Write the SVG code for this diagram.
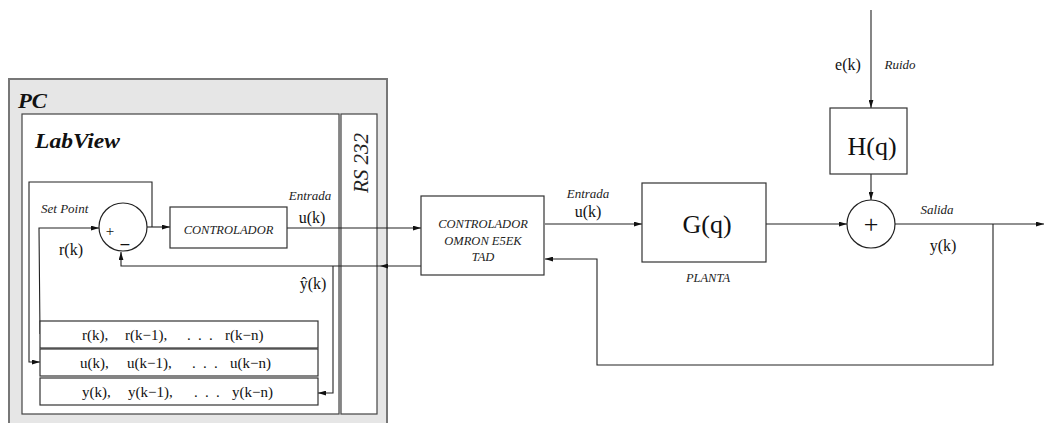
<svg xmlns="http://www.w3.org/2000/svg" width="1044" height="423" viewBox="0 0 1044 423">
<defs>
<marker id="ah" viewBox="0 0 10 6" refX="10" refY="3" markerWidth="8" markerHeight="5" markerUnits="userSpaceOnUse" orient="auto">
<path d="M0,0 L10,3 L0,6 z" fill="#111"/>
</marker>
<style>
.ln{fill:none;stroke:#222;stroke-width:1.1}
.arr{fill:none;stroke:#222;stroke-width:1.1;marker-end:url(#ah)}
.box{fill:#fff;stroke:#333;stroke-width:1.2}
.t{font-family:"Liberation Serif",serif;fill:#111}
.i{font-family:"Liberation Serif",serif;font-style:italic;fill:#222}
.bi{font-family:"Liberation Serif",serif;font-style:italic;font-weight:bold;fill:#111}
</style>
</defs>
<rect width="1044" height="423" fill="#fff"/>

<g id="pc">
<rect x="9" y="79" width="378" height="360" fill="#e6e6e6" stroke="#777" stroke-width="2"/>
<text class="bi" x="18" y="108" font-size="20" textLength="29" lengthAdjust="spacingAndGlyphs">PC</text>
</g>
<g id="labview">
<rect x="22" y="114" width="317" height="300" fill="#fff" stroke="#444" stroke-width="1.2"/>
<text class="bi" x="35" y="148" font-size="20" textLength="85" lengthAdjust="spacingAndGlyphs">LabView</text>
</g>
<g id="rs232">
<rect x="341" y="114" width="36" height="300" fill="#fff" stroke="#444" stroke-width="1.2"/>
<text class="i" transform="translate(368,163) rotate(-90)" text-anchor="middle" font-size="21">RS 232</text>
</g>

<g id="connectors">
<path class="arr" d="M40,334 L39,228 L99,228"/>
<path class="arr" d="M147,227 L170,227"/>
<path class="arr" d="M152,227 L152,182 L29,182 L29,362 L40,362"/>
<path class="arr" d="M287,228 L421,228"/>
<path class="arr" d="M421,266 L380,266"/>
<path class="arr" d="M380,266 L121,266 L121,252"/>
<path class="arr" d="M333,266 L333,393 L318,393"/>
<path class="arr" d="M545,224 L642,224"/>
<path class="arr" d="M766,224 L847,224"/>
<path class="arr" d="M871,10 L871,108"/>
<path class="arr" d="M871,174 L871,200"/>
<path class="arr" d="M895,224 L1044,224"/>
<path class="arr" d="M993,224 L993,365 L597,365 L597,259 L545,259"/>
</g>

<g id="summer1">
<circle cx="123" cy="227" r="24" fill="#fff" stroke="#222" stroke-width="1.2"/>
<text class="t" x="110" y="236" font-size="15" text-anchor="middle">+</text>
<text class="t" x="125" y="251" font-size="19" font-weight="bold" text-anchor="middle">−</text>
</g>
<g id="setpoint">
<text class="i" x="41" y="213" font-size="13">Set Point</text>
<text class="t" x="59" y="255" font-size="16">r(k)</text>
</g>
<g id="controlador">
<rect class="box" x="170" y="207" width="117" height="41"/>
<text class="i" x="228.5" y="234" font-size="12.5" text-anchor="middle">CONTROLADOR</text>
</g>
<g id="labels-left">
<text class="i" x="310" y="200" font-size="13" text-anchor="middle">Entrada</text>
<text class="t" x="312" y="223" font-size="16" text-anchor="middle">u(k)</text>
<text class="t" x="313" y="289" font-size="16" text-anchor="middle">ŷ(k)</text>
</g>
<g id="rbuf">
<rect class="box" x="40" y="321" width="278" height="27"/>
<text class="t" y="340" font-size="15"><tspan x="82">r(k),</tspan><tspan x="125">r(k−1),</tspan><tspan x="187">.</tspan><tspan x="198">.</tspan><tspan x="209">.</tspan><tspan x="225">r(k−n)</tspan></text>
</g>
<g id="ubuf">
<rect class="box" x="40" y="349" width="278" height="27"/>
<text class="t" y="368" font-size="15"><tspan x="80">u(k),</tspan><tspan x="127">u(k−1),</tspan><tspan x="192">.</tspan><tspan x="203">.</tspan><tspan x="214">.</tspan><tspan x="230">u(k−n)</tspan></text>
</g>
<g id="ybuf">
<rect class="box" x="40" y="378" width="278" height="27"/>
<text class="t" y="397" font-size="15"><tspan x="82">y(k),</tspan><tspan x="128">y(k−1),</tspan><tspan x="194">.</tspan><tspan x="205">.</tspan><tspan x="216">.</tspan><tspan x="232">y(k−n)</tspan></text>
</g>
<g id="omron">
<rect class="box" x="421" y="196" width="123" height="79"/>
<text class="i" x="483" y="228" font-size="12.5" text-anchor="middle">CONTROLADOR</text>
<text class="i" x="483" y="245" font-size="12.5" text-anchor="middle">OMRON E5EK</text>
<text class="i" x="483" y="261" font-size="12.5" text-anchor="middle">TAD</text>
</g>
<g id="labels-mid">
<text class="i" x="588" y="198" font-size="13" text-anchor="middle">Entrada</text>
<text class="t" x="588" y="217" font-size="16" text-anchor="middle">u(k)</text>
</g>
<g id="planta">
<rect class="box" x="642" y="183" width="124" height="79"/>
<text class="t" x="707" y="233" font-size="26" text-anchor="middle">G(q)</text>
<text class="i" x="708" y="282" font-size="12.5" text-anchor="middle">PLANTA</text>
</g>
<g id="hq">
<rect class="box" x="830" y="108" width="77" height="66"/>
<text class="t" x="872" y="155" font-size="26" text-anchor="middle">H(q)</text>
</g>
<g id="summer2">
<circle cx="871" cy="224" r="24" fill="#fff" stroke="#222" stroke-width="1.2"/>
<text class="t" x="871" y="233" font-size="26" text-anchor="middle">+</text>
</g>
<g id="labels-right">
<text class="t" x="848" y="70" font-size="16" text-anchor="middle">e(k)</text>
<text class="i" x="900" y="69" font-size="13" text-anchor="middle">Ruido</text>
<text class="i" x="937" y="214" font-size="13" text-anchor="middle">Salida</text>
<text class="t" x="943" y="251" font-size="16" text-anchor="middle">y(k)</text>
</g>
</svg>
